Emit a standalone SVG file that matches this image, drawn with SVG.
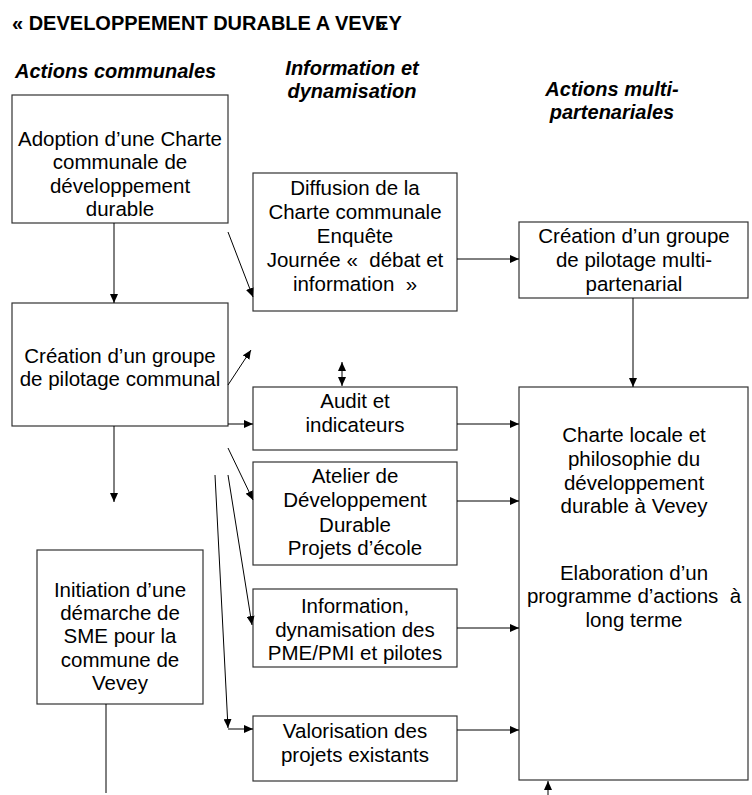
<svg xmlns="http://www.w3.org/2000/svg" width="752" height="795" viewBox="0 0 752 795">
<style>
text{font-family:"Liberation Sans",Arial,sans-serif;fill:#000}
.t{font-size:20.5px;text-anchor:middle}
.p{white-space:pre}
.h{font-size:20px;font-weight:bold;font-style:italic}
.title{font-size:20px;font-weight:bold}
.box{fill:#fff;stroke:#333;stroke-width:1.2}
.c{fill:none;stroke:#000;stroke-width:1}
.a{marker-end:url(#ah)}
</style>
<defs>
<marker id="ah" markerUnits="userSpaceOnUse" markerWidth="10" markerHeight="8" refX="9" refY="4" orient="auto-start-reverse">
<path d="M0,0 L9,4 L0,8 z" fill="#000"/>
</marker>
</defs>
<rect width="752" height="795" fill="#fff"/>
<g id="title">
<text class="title" x="12" y="30">« DEVELOPPEMENT DURABLE A VEVE<tspan dx="-12" style="font-size:17px">»</tspan><tspan dx="2.6">Y</tspan></text>
</g>
<g id="headers">
<text class="h" x="15" y="78">Actions communales</text>
<text class="h" x="352" y="75" text-anchor="middle">Information et</text>
<text class="h" x="352" y="98" text-anchor="middle">dynamisation</text>
<text class="h" x="612" y="96" text-anchor="middle">Actions multi-</text>
<text class="h" x="612" y="119" text-anchor="middle">partenariales</text>
</g>
<g id="n-adoption">
<rect class="box" x="12" y="95" width="216" height="128"/>
<text class="t" x="120" y="146">Adoption d’une Charte</text>
<text class="t" x="120" y="169">communale de</text>
<text class="t" x="120" y="193">développement</text>
<text class="t" x="120" y="216">durable</text>
</g>
<g id="n-groupe-communal">
<rect class="box" x="12" y="303" width="216" height="123"/>
<text class="t" x="120" y="363">Création d’un groupe</text>
<text class="t" x="120" y="386">de pilotage communal</text>
</g>
<g id="n-initiation">
<rect class="box" x="37" y="550" width="166" height="154"/>
<text class="t" x="120" y="597">Initiation d’une</text>
<text class="t" x="120" y="620">démarche de</text>
<text class="t" x="120" y="643">SME pour la</text>
<text class="t" x="120" y="667">commune de</text>
<text class="t" x="120" y="690">Vevey</text>
</g>
<g id="n-diffusion">
<rect class="box" x="253" y="173" width="204" height="138"/>
<text class="t" x="355" y="195">Diffusion de la</text>
<text class="t" x="355" y="219">Charte communale</text>
<text class="t" x="355" y="243">Enquête</text>
<text class="t p" x="355" y="267">Journée «  débat et</text>
<text class="t p" x="355" y="291">information  »</text>
</g>
<g id="n-groupe-multi">
<rect class="box" x="519" y="222" width="229" height="76"/>
<text class="t" x="634" y="243">Création d’un groupe</text>
<text class="t" x="634" y="267">de pilotage multi-</text>
<text class="t" x="634" y="291">partenarial</text>
</g>
<g id="n-audit">
<rect class="box" x="253" y="387" width="204" height="63"/>
<text class="t" x="355" y="408">Audit et</text>
<text class="t" x="355" y="432">indicateurs</text>
</g>
<g id="n-atelier">
<rect class="box" x="253" y="462" width="204" height="103"/>
<text class="t" x="355" y="483">Atelier de</text>
<text class="t" x="355" y="507">Développement</text>
<text class="t" x="355" y="532">Durable</text>
<text class="t" x="355" y="555">Projets d’école</text>
</g>
<g id="n-information">
<rect class="box" x="253" y="589" width="204" height="78"/>
<text class="t" x="355" y="613">Information,</text>
<text class="t" x="355" y="637">dynamisation des</text>
<text class="t" x="355" y="660">PME/PMI et pilotes</text>
</g>
<g id="n-valorisation">
<rect class="box" x="253" y="716" width="204" height="65"/>
<text class="t" x="355" y="738">Valorisation des</text>
<text class="t" x="355" y="762">projets existants</text>
</g>
<g id="n-charte-locale">
<rect class="box" x="519" y="387" width="229" height="393"/>
<text class="t" x="634" y="442">Charte locale et</text>
<text class="t" x="634" y="466">philosophie du</text>
<text class="t" x="634" y="490">développement</text>
<text class="t" x="634" y="513">durable à Vevey</text>
<text class="t" x="634" y="580">Elaboration d’un</text>
<text class="t p" x="634" y="603">programme d’actions  à</text>
<text class="t" x="634" y="627">long terme</text>
</g>
<g id="connectors">
<path class="c a" d="M114,223 L114,303"/>
<path class="c a" d="M114,426 L114,502"/>
<path class="c a" d="M228,232 L253,297"/>
<path class="c a" d="M228,385 L251,350"/>
<path class="c a" d="M457,259 L519,259"/>
<path class="c a" d="M633,298 L633,387"/>
<path class="c a" d="M342,362 L342,386" marker-start="url(#ah)"/>
<path class="c a" d="M228,424 L253,424"/>
<path class="c a" d="M457,424 L519,424"/>
<path class="c a" d="M228,448 L253,500"/>
<path class="c a" d="M457,501 L519,501"/>
<path class="c a" d="M228,475 L252,625"/>
<path class="c a" d="M457,628 L519,628"/>
<path class="c a" d="M215,475 L228,728"/>
<path class="c a" d="M228,729 L253,729"/>
<path class="c a" d="M457,730 L519,730"/>
<path class="c" d="M106,704 L106,793"/>
<path class="c a" d="M548,795 L548,781"/>
</g>
</svg>
